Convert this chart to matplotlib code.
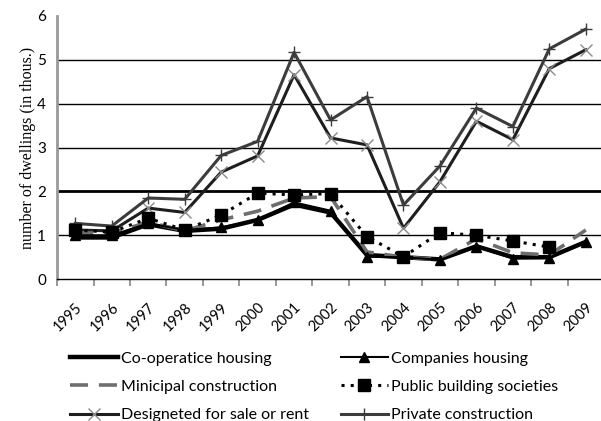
import matplotlib

matplotlib.use("Agg")
import matplotlib.pyplot as plt
import matplotlib.transforms as mtransforms
import numpy as np

years = [str(y) for y in range(1995, 2010)]

co_operative = [0.95, 0.95, 1.25, 1.10, 1.15, 1.35, 1.70, 1.52, 0.55, 0.50, 0.45, 0.75, 0.50, 0.50, 0.85]
companies = [1.00, 1.00, 1.27, 1.12, 1.18, 1.35, 1.75, 1.56, 0.51, 0.50, 0.44, 0.74, 0.47, 0.48, 0.84]
municipal = [1.05, 1.05, 1.30, 1.10, 1.35, 1.55, 1.85, 1.88, 0.62, 0.50, 0.45, 0.92, 0.60, 0.55, 1.12]
public_soc = [1.12, 1.07, 1.39, 1.12, 1.46, 1.96, 1.92, 1.95, 0.97, 0.51, 1.06, 1.00, 0.87, 0.73, np.nan]
designated = [1.12, 1.10, 1.62, 1.52, 2.44, 2.81, 4.66, 3.22, 3.06, 1.16, 2.22, 3.60, 3.18, 4.80, 5.23]
private = [1.27, 1.21, 1.85, 1.82, 2.82, 3.14, 5.17, 3.63, 4.16, 1.69, 2.58, 3.90, 3.48, 5.25, 5.70]

labels = [
    "Co-operatice housing",
    "Companies housing",
    "Minicipal construction",
    "Public building societies",
    "Designeted for sale or rent",
    "Private construction",
]

fig = plt.figure(figsize=(6.01, 4.21), dpi=100)
ax = fig.add_axes([0.095, 0.337, 0.91, 0.625])

x = np.arange(len(years))

# horizontal gridlines (the one at 2 is drawn heavier in the source)
for g in [1, 3, 4, 5]:
    ax.axhline(g, color="black", lw=1.0, zorder=1)
ax.axhline(2, color="black", lw=2.0, zorder=1)

h1, = ax.plot(x, co_operative, color="black", lw=3.2, zorder=3)
h2, = ax.plot(x, companies, color="black", lw=1.5, marker="^", ms=7, zorder=4)
h3, = ax.plot(x, municipal, color="#6e6e6e", lw=2.6, ls=(0, (5, 3)), zorder=3)
h4, = ax.plot(x, public_soc, color="black", lw=2.2, ls=(0, (1, 2)), marker="s",
              ms=8, zorder=4)
h5, = ax.plot(x, designated, color="#1e1e1e", lw=2.2, marker="x", ms=8,
              mec="#8a8a8a", mew=1.0, zorder=2)
h6, = ax.plot(x, private, color="#3c3c3c", lw=2.2, marker="+", ms=9,
              mec="#3c3c3c", mew=1.0, zorder=2)

ax.set_xlim(-0.5, 14.5)
ax.set_ylim(0, 6)
ax.set_yticks(range(7))
ax.set_xticks(np.arange(-0.5, 15, 1), minor=True)
ax.set_xticks(x)
ax.set_xticklabels(years, rotation=45, ha="right", va="top",
                   rotation_mode="anchor", family="Lato", fontsize=10.5)
shift = mtransforms.ScaledTranslation(2 / 72, 0, fig.dpi_scale_trans)
for t in ax.get_xticklabels():
    t.set_transform(t.get_transform() + shift)
ax.tick_params(axis="x", which="major", length=0, pad=15)
ax.tick_params(axis="x", which="minor", length=5, color="#888888", width=1.2)
ax.tick_params(axis="y", length=0, labelsize=11, pad=8)
for t in ax.get_yticklabels():
    t.set_family("Lato")

ax.spines["top"].set_visible(False)
ax.spines["right"].set_visible(False)
ax.spines["left"].set_color("#999999")
ax.spines["left"].set_linewidth(2.0)
ax.spines["bottom"].set_color("black")
ax.spines["bottom"].set_linewidth(1.0)

ax.set_ylabel("number of dwellings (in thous.)", family="Liberation Serif",
              fontsize=11.5, labelpad=1)

# legend fills column-wise, so order handles to read row-wise
order = [0, 2, 4, 1, 3, 5]
handles = [h1, h2, h3, h4, h5, h6]
fig.legend(
    [handles[i] for i in order], [labels[i] for i in order],
    ncol=2, loc="lower left", bbox_to_anchor=(0.093, -0.037),
    frameon=False, prop={"family": "Lato", "size": 11.5},
    handlelength=3.0, handletextpad=0.15, columnspacing=2.0, labelspacing=0.88,
)

fig.savefig("out.png", dpi=100)
